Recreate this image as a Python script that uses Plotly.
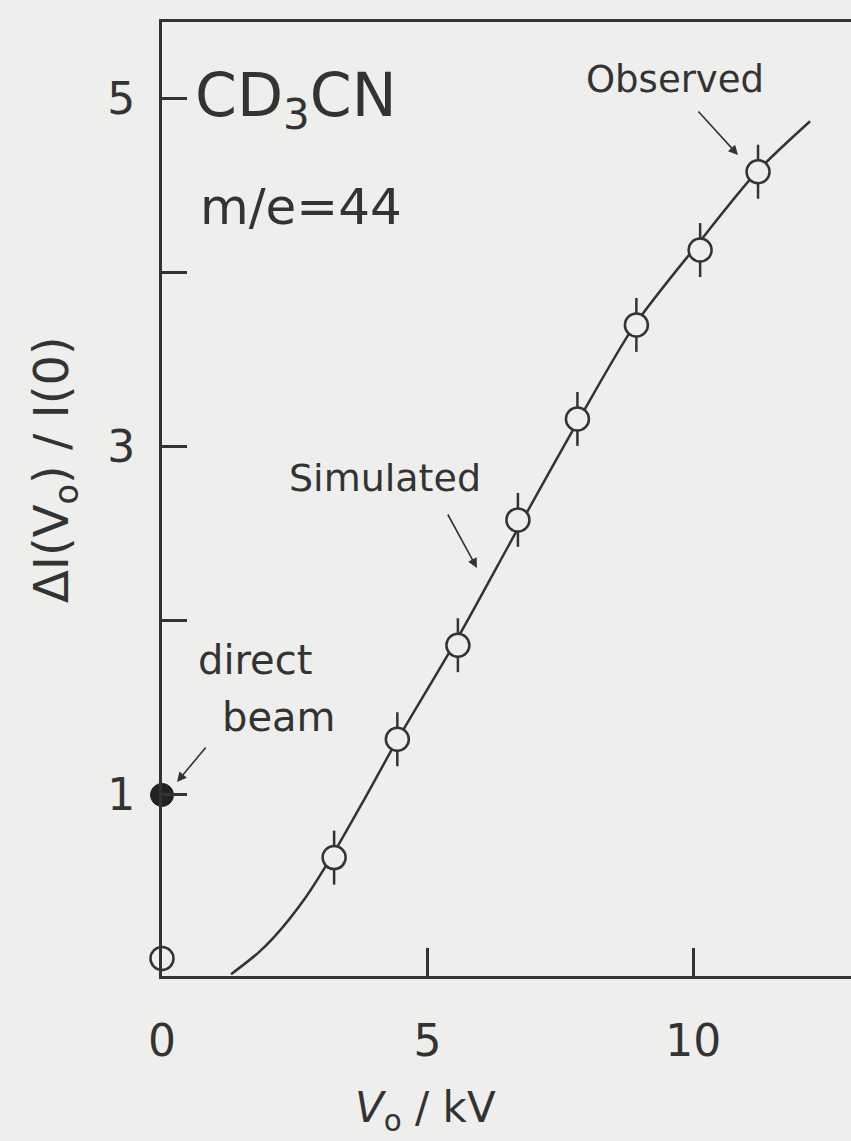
import plotly.graph_objects as go

# ---- data ----
obs_x = [0.0, 3.24, 4.43, 5.57, 6.70, 7.82, 8.93, 10.13, 11.22]
obs_y = [0.06, 0.64, 1.32, 1.86, 2.58, 3.16, 3.70, 4.13, 4.58]
obs_err = [0.0, 0.155, 0.155, 0.155, 0.155, 0.155, 0.155, 0.155, 0.155]

direct_x = [0.0]
direct_y = [1.0]

sim_x = [1.3, 1.8, 2.1, 2.7, 3.2, 3.8, 4.4, 5.6, 6.7, 7.8, 8.9, 10.1, 11.2, 12.2]
sim_y = [-0.03, 0.09, 0.18, 0.41, 0.65, 0.97, 1.30, 1.92, 2.53, 3.13, 3.70, 4.17, 4.58, 4.87]

y_tickvals = [1, 3, 5]
y_ticktext = ["1", "3", "5"]
y_minor_ticks = [2, 4]
x_tickvals = [0, 5, 10]
x_ticktext = ["0", "5", "10"]

# ---- style ----
BG = "#eeeeec"
INK = "#333333"
FONT = "DejaVu Sans"

W, H = 851, 1141
L, R, T, B = 162, 0, 22, 165
X_RANGE = [0, 12.97]
Y_RANGE = [-0.04, 5.44]


def px(xp):
    return (xp - L) / (W - L - R)


def py(yp):
    return (H - B - yp) / (H - B - T)


fig = go.Figure()

fig.add_trace(go.Scatter(
    x=sim_x, y=sim_y, mode="lines",
    line=dict(color=INK, width=2.5, shape="spline", smoothing=0.8),
    hoverinfo="skip", showlegend=False,
))

fig.add_trace(go.Scatter(
    x=obs_x, y=obs_y, mode="markers",
    marker=dict(symbol="circle", size=23, color=BG, line=dict(color=INK, width=2.5)),
    error_y=dict(type="data", array=obs_err, visible=True, color=INK, thickness=2.5, width=0),
    cliponaxis=False, showlegend=False,
))

fig.add_trace(go.Scatter(
    x=direct_x, y=direct_y, mode="markers",
    marker=dict(symbol="circle", size=23, color="#222222", line=dict(color="#222222", width=1)),
    cliponaxis=False, showlegend=False,
))

annotations = [
    dict(x=px(193), y=py(100), xanchor="left", yanchor="middle",
         text="CD<sub>3</sub>CN", font=dict(size=60)),
    dict(x=px(198), y=py(207), xanchor="left", yanchor="middle",
         text="m/e=44", font=dict(size=50)),
    dict(x=px(675), y=py(80), xanchor="center", yanchor="middle",
         text="Observed", font=dict(size=37)),
    dict(x=px(385), y=py(478), xanchor="center", yanchor="middle",
         text="Simulated", font=dict(size=38)),
    dict(x=px(255), y=py(660), xanchor="center", yanchor="middle",
         text="direct", font=dict(size=40)),
    dict(x=px(278), y=py(717), xanchor="center", yanchor="middle",
         text="beam", font=dict(size=40)),
    dict(x=px(425), y=py(1110), xanchor="center", yanchor="middle",
         text="<i>V</i><sub>o</sub> / kV", font=dict(size=42)),
    dict(x=px(55), y=py(470), xanchor="center", yanchor="middle", textangle=-90,
         text="ΔI(V<sub>o</sub>) / I(0)", font=dict(size=48)),
]
# arrows
arrows = [
    ((697, 110), (738, 155)),
    ((447, 513), (477, 568)),
    ((207, 746), (177, 782)),
]
for (tx, ty), (hx, hy) in arrows:
    annotations.append(dict(
        x=px(hx), y=py(hy), ax=tx - hx, ay=ty - hy, text="",
        showarrow=True, arrowhead=2, arrowsize=1.2, arrowwidth=1.6, arrowcolor=INK,
    ))
for a in annotations:
    a.setdefault("showarrow", False)
    a["xref"] = "paper"
    a["yref"] = "paper"

fig.update_layout(
    width=W, height=H,
    margin=dict(l=L, r=R, t=T, b=B, pad=0),
    paper_bgcolor=BG, plot_bgcolor=BG,
    font=dict(family=FONT, color=INK, size=40),
    annotations=annotations,
    showlegend=False,
)
fig.update_xaxes(
    range=X_RANGE, showgrid=False, zeroline=False,
    showline=True, linecolor=INK, linewidth=3, mirror=True,
    ticks="inside", ticklen=28, tickwidth=2.5, tickcolor=INK,
    tickvals=x_tickvals, ticktext=x_ticktext, tickfont=dict(size=44),
    ticklabelstandoff=24,
)
fig.update_yaxes(
    range=Y_RANGE, showgrid=False, zeroline=False,
    showline=True, linecolor=INK, linewidth=3, mirror=False,
    ticks="inside", ticklen=25, tickwidth=2.5, tickcolor=INK,
    tickvals=y_tickvals, ticktext=y_ticktext, tickfont=dict(size=44),
    ticklabelstandoff=15,
    minor=dict(tickvals=y_minor_ticks, ticks="inside", ticklen=25,
               tickwidth=2.5, tickcolor=INK, showgrid=False),
)

fig.write_html("out.html")
